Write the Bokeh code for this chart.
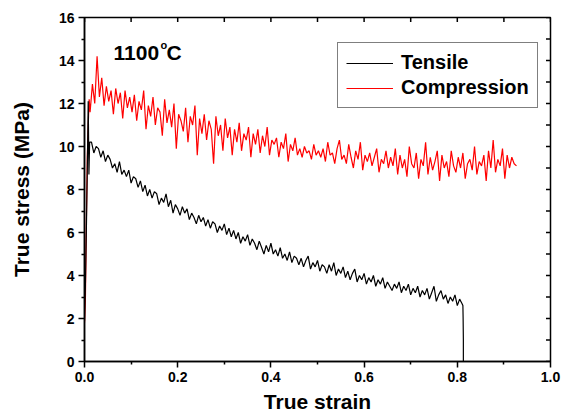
import numpy as np
from bokeh.plotting import figure
from bokeh.models import (Range1d, FixedTicker, NumeralTickFormatter, Label, Legend, LegendItem)
from bokeh.embed import file_html
from bokeh.resources import INLINE

# ---------------- data ----------------
# Tensile curve
tensile_head_strain = [0.0, 0.002, 0.004, 0.006, 0.008, 0.0095, 0.011]
tensile_head_stress = [1.9, 3.6, 6.1, 8.9, 12.1, 8.7, 10.2]
tensile_grid_start = 0.015
tensile_grid_step = 0.005
tensile_stress = [
    10.2, 9.7, 10.0, 9.9, 9.5, 9.8, 9.3, 9.6, 9.4, 9.0,
    9.2, 8.8, 9.3, 8.7, 8.9, 8.6, 8.9, 8.3, 8.6, 8.5,
    8.1, 8.4, 7.9, 8.2, 7.7, 8.0, 7.6, 7.9, 7.8, 7.3,
    7.6, 7.4, 7.8, 7.2, 7.5, 6.9, 7.3, 7.1, 6.8, 7.2,
    6.9, 7.1, 6.6, 6.9, 6.7, 6.4, 6.8, 6.5, 6.7, 6.3,
    6.6, 6.2, 6.5, 6.4, 6.0, 6.3, 6.1, 6.4, 5.9, 6.2,
    5.8, 6.1, 5.7, 6.0, 5.5, 5.8, 5.6, 5.9, 5.4, 5.7,
    5.5, 5.2, 5.6, 5.3, 5.0, 5.4, 5.1, 5.5, 5.0, 5.2,
    4.9, 5.3, 4.8, 5.0, 4.7, 5.1, 4.6, 4.9, 4.8, 4.5,
    4.8, 4.4, 4.7, 4.9, 4.3, 4.6, 4.4, 4.7, 4.2, 4.5,
    4.4, 4.1, 4.5, 4.2, 4.6, 4.0, 4.3, 4.1, 4.4, 3.9,
    4.2, 3.8, 4.1, 4.3, 3.7, 4.0, 3.8, 4.1, 3.6, 3.9,
    3.7, 4.0, 3.5, 3.8, 3.6, 3.9, 3.4, 3.7, 3.5, 3.3,
    3.6, 3.4, 3.7, 3.2, 3.5, 3.3, 3.6, 3.1, 3.4, 3.2,
    3.5, 3.0, 3.3, 3.1, 3.4, 2.9, 3.2, 3.5, 2.8, 3.1,
    3.3, 2.9, 3.1, 2.7, 3.0, 2.8, 3.1, 2.6, 2.9, 2.7,
]
tensile_tail_strain = [0.812, 0.8125, 0.813, 0.813]
tensile_tail_stress = [2.6, 2.0, 1.0, 0.0]

# Compression curve
compression_head_strain = [0.0, 0.002, 0.004, 0.006, 0.008, 0.010]
compression_head_stress = [1.8, 3.0, 6.5, 9.5, 11.0, 12.2]
compression_grid_start = 0.012
compression_grid_step = 0.005
compression_stress = [
    11.6, 12.9, 12.0, 14.2, 12.3, 13.2, 11.9, 12.8, 12.1, 12.6,
    11.5, 12.7, 12.0, 12.5, 11.3, 12.6, 11.8, 12.3, 11.6, 12.4,
    11.2, 12.1, 11.7, 12.6, 10.8, 11.9, 11.4, 12.3, 11.0, 11.8,
    11.6, 10.5, 12.2, 11.1, 11.7, 10.9, 12.0, 9.9, 11.5, 11.2,
    10.7, 11.8, 10.2, 11.4, 11.0, 11.9, 9.6, 11.3, 10.6, 11.5,
    10.3, 11.2, 10.8, 9.2, 11.4, 10.5, 11.0, 9.8, 11.3, 10.4,
    10.9, 9.6, 10.8, 10.2, 11.1, 9.8, 10.6, 10.3, 10.9, 9.5,
    10.6, 10.1, 10.8, 9.7, 10.5, 10.0, 10.9, 9.6, 10.3, 10.1,
    10.4, 9.5, 10.2, 9.9, 10.6, 9.3, 10.1, 9.8, 10.4, 9.6,
    9.9, 9.5, 10.0, 9.7, 9.8, 9.4, 10.1, 9.6, 9.8, 9.5,
    9.9, 9.3, 10.2, 9.6, 9.7, 9.2, 9.9, 10.3, 9.4, 9.6,
    9.2, 10.1, 9.5, 9.0, 9.8, 9.4, 10.2, 8.9, 9.6, 9.3,
    9.7, 9.1, 9.5, 9.9, 8.8, 9.4, 9.2, 9.8, 9.0, 9.5,
    9.1, 9.9, 8.7, 9.6, 9.0, 9.4, 8.6, 10.0, 9.2, 9.0,
    9.7, 8.5, 9.4, 9.1, 10.2, 8.7, 9.5, 8.9, 9.3, 9.8,
    8.4, 9.6, 9.0, 9.3, 8.6, 9.8, 9.1, 8.8, 9.5, 9.0,
    9.7, 8.5, 9.2, 9.4, 8.9, 10.0, 8.7, 9.3, 9.1, 9.6,
    8.4, 9.8, 9.0, 10.3, 8.8, 9.4, 9.1, 9.9, 8.5, 9.6,
    9.0, 9.5, 9.2, 9.1,
]

x_major_ticks = [0.0, 0.2, 0.4, 0.6, 0.8, 1.0]
x_minor_ticks = [0.1, 0.3, 0.5, 0.7, 0.9]
y_major_ticks = [0, 2, 4, 6, 8, 10, 12, 14, 16]
y_minor_ticks = [1, 3, 5, 7, 9, 11, 13, 15]
series_names = ["Tensile", "Compression"]
temperature_text = ["1100", "o", "C"]
x_title = "True strain"
y_title = "True stress (MPa)"

# ---------------- assemble series ----------------
t_grid = np.round(tensile_grid_start + tensile_grid_step * np.arange(len(tensile_stress)), 4)
tensile_x = list(tensile_head_strain) + list(t_grid) + list(tensile_tail_strain)
tensile_y = list(tensile_head_stress) + list(tensile_stress) + list(tensile_tail_stress)

c_grid = np.round(compression_grid_start + compression_grid_step * np.arange(len(compression_stress)), 4)
compression_x = list(compression_head_strain) + list(c_grid)
compression_y = list(compression_head_stress) + list(compression_stress)

FONT = "Liberation Sans"
X_MIN, X_MAX = 0.0, 1.0
Y_MIN, Y_MAX = 0, 16

p = figure(width=562, height=416, x_range=Range1d(X_MIN, X_MAX), y_range=Range1d(Y_MIN, Y_MAX),
           output_backend="svg", toolbar_location=None,
           min_border_left=84, min_border_right=12, min_border_top=17, min_border_bottom=55)
p.grid.visible = False
p.outline_line_color = "black"
p.outline_line_width = 1.5
p.background_fill_color = "white"
p.border_fill_color = "white"

p.xaxis[0].ticker = FixedTicker(ticks=x_major_ticks, minor_ticks=x_minor_ticks)
p.yaxis[0].ticker = FixedTicker(ticks=y_major_ticks, minor_ticks=y_minor_ticks)
for ax in (p.xaxis[0], p.yaxis[0]):
    ax.axis_line_width = 1.5
    ax.axis_line_color = "black"
    ax.major_tick_line_width = 1.5
    ax.minor_tick_line_width = 1.5
    ax.major_tick_in = 0
    ax.major_tick_out = 6
    ax.minor_tick_in = 0
    ax.minor_tick_out = 3
    ax.major_label_text_font = FONT
    ax.major_label_text_font_style = "bold"
    ax.major_label_text_font_size = "14px"
    ax.major_label_text_color = "black"
    ax.major_label_standoff = 4
    ax.axis_label_text_font = FONT
    ax.axis_label_text_font_style = "bold"
    ax.axis_label_text_font_size = "21px"
    ax.axis_label_text_color = "black"
p.xaxis[0].formatter = NumeralTickFormatter(format="0.0")
p.xaxis[0].axis_label = x_title
p.xaxis[0].axis_label_standoff = 5
p.yaxis[0].axis_label = y_title
p.yaxis[0].axis_label_standoff = 23

# inward tick marks along the right and top frame edges (half of each dash is clipped by the frame)
right_ticks = sorted(y_major_ticks + y_minor_ticks)
top_ticks = sorted(x_major_ticks + x_minor_ticks)
p.scatter([X_MAX] * len(right_ticks), right_ticks, marker="dash", size=9,
          line_color="black", line_width=1.5)
p.scatter(top_ticks, [Y_MAX] * len(top_ticks), marker="dash", size=9, angle=np.pi / 2,
          line_color="black", line_width=1.5)

r_comp = p.line(compression_x, compression_y, line_color="#ff0000", line_width=1.2)
r_tens = p.line(tensile_x, tensile_y, line_color="black", line_width=1.2)

legend = Legend(items=[LegendItem(label=series_names[0], renderers=[r_tens]),
                       LegendItem(label=series_names[1], renderers=[r_comp])],
                location=(253, 253), glyph_width=47, glyph_height=20, label_standoff=8,
                padding=8, spacing=2, margin=0, border_line_color="black", border_line_width=1,
                label_text_font=FONT, label_text_font_style="bold", label_text_font_size="20px",
                label_text_color="black", background_fill_alpha=1.0)
p.add_layout(legend, "center")

p.add_layout(Label(x=0, y=14.37, x_offset=29, text=temperature_text[0], text_font=FONT,
                   text_font_style="bold", text_font_size="21px", text_baseline="alphabetic",
                   text_color="black"))
p.add_layout(Label(x=0, y=14.70, x_offset=76, text=temperature_text[1], text_font=FONT,
                   text_font_style="bold", text_font_size="11px", text_baseline="alphabetic",
                   text_color="black"))
p.add_layout(Label(x=0, y=14.37, x_offset=82, text=temperature_text[2], text_font=FONT,
                   text_font_style="bold", text_font_size="21px", text_baseline="alphabetic",
                   text_color="black"))

open("out.html", "w").write(file_html(p, INLINE))
